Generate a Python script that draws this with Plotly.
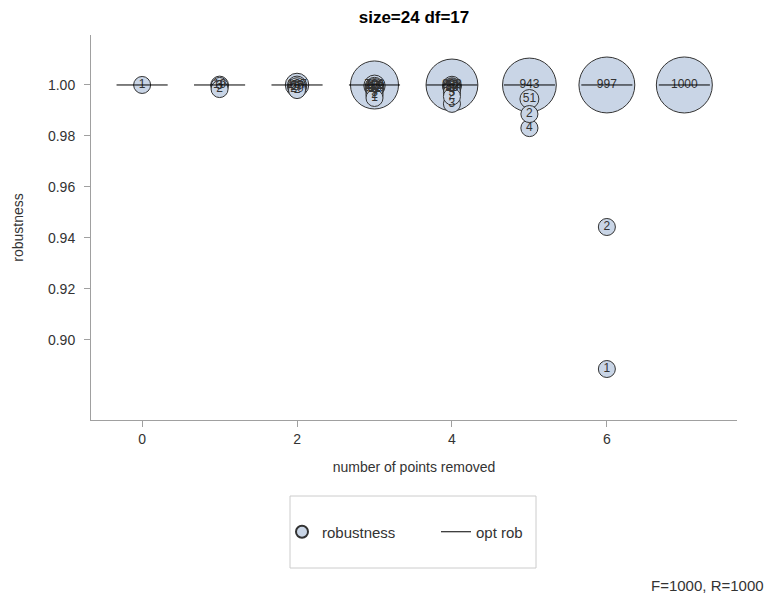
import plotly.graph_objects as go

# ---- data ----
points_removed = [0, 1, 1, 1, 2, 2, 2, 2, 2,
                  3, 3, 3, 3, 3, 3, 3, 3, 3,
                  4, 4, 4, 4, 4, 4, 4, 4, 4,
                  5, 5, 5, 5,
                  6, 6, 6,
                  7]
robustness = [1.0, 1.0, 0.9996, 0.9984, 1.0, 0.9997, 0.9993, 0.9985, 0.9980,
              1.0, 0.9997, 0.9993, 0.9990, 0.9985, 0.9980, 0.9970, 0.9960, 0.9949,
              1.0, 0.9997, 0.9993, 0.9990, 0.9985, 0.9980, 0.9970, 0.9955, 0.9926,
              1.0, 0.9945, 0.9886, 0.9831,
              1.0, 0.9443, 0.8886,
              1.0]
counts = [1, 19, 3, 2, 167, 60, 27, 20, 2,
          796, 112, 47, 21, 12, 6, 3, 2, 1,
          893, 50, 24, 13, 8, 4, 3, 2, 3,
          943, 51, 2, 4,
          997, 2, 1,
          1000]
opt_x = [0, 1, 2, 3, 4, 5, 6, 7]
opt_rob = [1.0, 1.0, 1.0, 1.0, 1.0, 1.0, 1.0, 1.0]

FONT = "Liberation Sans, Arial, sans-serif"

# ---- bubble sizes: radius linear in count ----
rmin, rmax = 8.5, 28.0
cmin, cmax = min(counts), max(counts)
order = sorted(range(len(counts)), key=lambda i: -counts[i])
xs = [points_removed[i] for i in order]
ys = [robustness[i] for i in order]
cs = [counts[i] for i in order]
sizes = [2 * (rmin + (rmax - rmin) * (c - cmin) / (cmax - cmin)) for c in cs]

fig = go.Figure()
fig.add_trace(go.Scatter(
    x=xs, y=ys, mode="markers+text", name="robustness", legend="legend",
    text=[str(c) for c in cs], textposition="middle center",
    textfont=dict(size=12, color="#333333", family=FONT),
    marker=dict(size=sizes, color="#c9d5e6",
                line=dict(color="#333333", width=1), opacity=1),
    cliponaxis=False,
))

# opt rob segments
lx, ly = [], []
for xv, yv in zip(opt_x, opt_rob):
    lx += [xv - 0.33, xv + 0.33, None]
    ly += [yv, yv, None]
fig.add_trace(go.Scatter(x=lx, y=ly, mode="lines", name="opt rob", legend="legend2",
                         line=dict(color="black", width=1)))

L, R, T, B = 91, 737, 35, 420
PW, PH = R - L, B - T

fig.update_layout(
    width=769, height=597,
    margin=dict(l=L, r=769 - R, t=T, b=597 - B),
    paper_bgcolor="white", plot_bgcolor="white",
    font=dict(family=FONT, size=14, color="#333333"),
    title=dict(text="<b>size=24 df=17</b>", x=(L + R) / 2 / 769, xanchor="center",
               y=1 - 17 / 597, yanchor="middle",
               font=dict(size=17, color="black", family=FONT)),
    showlegend=True,
    legend=dict(orientation="h", x=(282 - L) / PW, xanchor="left",
                y=(B - 532) / PH, yanchor="middle",
                bgcolor="rgba(0,0,0,0)", borderwidth=0,
                font=dict(size=15, color="#333333"), itemsizing="constant"),
    legend2=dict(orientation="h", x=(436 - L) / PW, xanchor="left",
                 y=(B - 532) / PH, yanchor="middle",
                 bgcolor="rgba(0,0,0,0)", borderwidth=0,
                 font=dict(size=15, color="#333333")),
    xaxis=dict(range=[-0.66, 7.68], tickvals=[0, 2, 4, 6], showgrid=False, zeroline=False,
               showline=True, linecolor="#a0a0a0", linewidth=1,
               ticks="outside", ticklen=6, tickcolor="#a0a0a0",
               tickfont=dict(size=14),
               title=dict(text="number of points removed", standoff=16,
                          font=dict(size=14, color="#333333"))),
    yaxis=dict(range=[0.8686, 1.0196], tickvals=[0.90, 0.92, 0.94, 0.96, 0.98, 1.00],
               tickformat=".2f", showgrid=False, zeroline=False,
               showline=True, linecolor="#a0a0a0", linewidth=1,
               ticks="outside", ticklen=6, tickcolor="#a0a0a0",
               tickfont=dict(size=14), ticklabelstandoff=6,
               title=dict(text="robustness", standoff=21,
                          font=dict(size=14, color="#333333"))),
    shapes=[dict(type="rect", xref="paper", yref="paper",
                 x0=(290 - L) / PW, x1=(536 - L) / PW,
                 y0=(B - 568) / PH, y1=(B - 496) / PH,
                 line=dict(color="#cccccc", width=1), fillcolor="rgba(0,0,0,0)")],
    annotations=[dict(text="F=1000, R=1000", xref="paper", yref="paper",
                      x=(766 - L) / PW, xanchor="right",
                      y=(B - 585) / PH, yanchor="middle", showarrow=False,
                      font=dict(size=15, color="#333333"))],
)

fig.write_html("out.html", config={"displayModeBar": False},
               post_script="document.body.style.margin='0';")
